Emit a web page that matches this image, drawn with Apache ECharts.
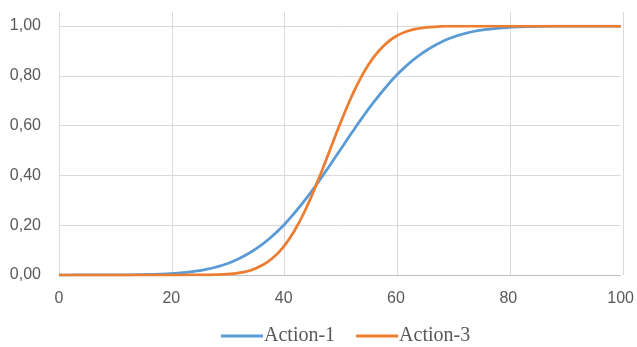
<!DOCTYPE html>
<html>
<head>
<meta charset="utf-8">
<script src="https://cdn.jsdelivr.net/npm/echarts@6/dist/echarts.min.js"></script>
<style>html,body{margin:0;padding:0;background:#fff}#c{width:637px;height:347px}</style>
</head>
<body>
<div id="c"></div>
<script>
var xValues = [0,2,4,6,8,10,12,14,16,18,20,22,24,26,28,30,32,34,36,38,40,42,44,46,48,50,52,54,56,58,60,62,64,66,68,70,72,74,76,78,80,82,84,86,88,90,92,94,96,98,100];
var action1 = [0,0,0.0001,0.0001,0.0002,0.0004,0.0007,0.0012,0.0021,0.0036,0.0059,0.0093,0.0145,0.0219,0.032,0.046,0.065,0.090,0.120,0.157,0.200,0.251,0.307,0.368,0.433,0.500,0.567,0.632,0.693,0.749,0.800,0.843,0.880,0.910,0.935,0.954,0.968,0.979,0.986,0.9907,0.9941,0.9964,0.9978,0.9987,0.9993,0.9996,0.9998,0.9999,1,1,1];
var action3 = [0,0,0,0,0,0,0,0,0,0,0,0,0.0002,0.0006,0.0015,0.0037,0.0087,0.018,0.037,0.067,0.114,0.181,0.268,0.373,0.488,0.604,0.712,0.803,0.874,0.925,0.959,0.979,0.990,0.9956,0.9982,0.9993,1,1,1,1,1,1,1,1,1,1,1,1,1,1,1];
var seriesNames = ['Action-1', 'Action-3'];
var xTicks = [0,20,40,60,80,100];
var yTicks = [0,0.2,0.4,0.6,0.8,1.0];

function pairs(ys){ return xValues.map(function(x,i){ return [x, ys[i]]; }); }

var chart = echarts.init(document.getElementById('c'), null, {renderer:'canvas'});
var labelFont = {color:'#595959', fontSize:16, fontFamily:'Liberation Sans'};
chart.setOption({
  animation:false,
  grid:[
    {left:59, right:14, top:12, bottom:72},
    {left:59, right:14, top:26, bottom:72}
  ],
  legend:{
    left:216, top:321, itemWidth:42, itemHeight:3, itemGap:21,
    icon:'rect',
    textStyle:{color:'#595959', fontSize:20, fontFamily:'Liberation Serif', padding:[0,0,0,-4]},
    data:seriesNames
  },
  xAxis:[
    {gridIndex:0, type:'value', min:0, max:100, interval:20,
     axisLine:{show:false}, axisTick:{show:false}, axisLabel:{show:false},
     splitLine:{show:true, lineStyle:{color:'#d9d9d9', width:1}}},
    {gridIndex:1, type:'value', min:0, max:100, interval:20,
     axisLine:{show:true, lineStyle:{color:'#bfbfbf', width:1}}, axisTick:{show:false},
     axisLabel:Object.assign({margin:16, customValues:xTicks}, labelFont),
     splitLine:{show:false}}
  ],
  yAxis:[
    {gridIndex:0, type:'value', min:0, max:1, show:false, splitLine:{show:false}},
    {gridIndex:1, type:'value', min:0, max:1, interval:0.2,
     axisLine:{show:false}, axisTick:{show:false},
     axisLabel:Object.assign({margin:18, formatter:function(v){return v.toFixed(2).replace('.', ',');}}, labelFont),
     splitLine:{show:true, lineStyle:{color:'#d9d9d9', width:1}}}
  ],
  series:[
    {name:seriesNames[0], type:'line', xAxisIndex:1, yAxisIndex:1, data:pairs(action1), smooth:true, showSymbol:false,
     lineStyle:{color:'#5B9BD5', width:2.75}, itemStyle:{color:'#5B9BD5'}},
    {name:seriesNames[1], type:'line', xAxisIndex:1, yAxisIndex:1, data:pairs(action3), smooth:true, showSymbol:false,
     lineStyle:{color:'#ED7D31', width:2.75}, itemStyle:{color:'#ED7D31'}}
  ]
});
</script>
</body>
</html>
